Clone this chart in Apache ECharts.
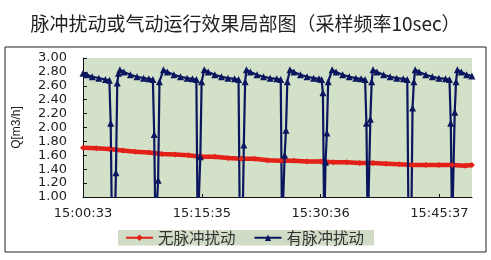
<!DOCTYPE html>
<html><head><meta charset="utf-8">
<script src="https://cdn.jsdelivr.net/npm/echarts@6/dist/echarts.min.js"></script>
<style>html,body{margin:0;padding:0;background:#fff}#c{width:491px;height:260px}</style>
</head><body><div id="c"></div>
<script>
// Time in seconds since 15:00:33 (10 s sampling)
const tickSeconds = [0, 902, 1803, 2704];
const tickLabels = ['15:00:33', '15:15:35', '15:30:36', '15:45:37'];
const seriesNames = ['无脉冲扰动', '有脉冲扰动'];

// 无脉冲扰动 (red)
const redTime = [0,100,200,300,400,500,600,700,800,900,1000,1100,1200,1300,1400,1500,1600,1700,1800,1900,2000,2100,2200,2300,2400,2500,2600,2700,2800,2900,2950];
const redFlow = [1.71,1.70,1.69,1.67,1.65,1.64,1.62,1.61,1.60,1.58,1.58,1.56,1.55,1.55,1.53,1.52,1.52,1.51,1.51,1.50,1.50,1.49,1.49,1.48,1.47,1.46,1.46,1.46,1.46,1.45,1.46];

// 有脉冲扰动 (blue) — values below 1.00 fall off the bottom of the plot
const blueTime = [0,30,70,120,170,200,210,220,230,240,250,260,270,280,
  310,360,410,460,500,530,540,550,560,570,580,610,
  640,690,740,790,830,860,870,880,890,900,920,
  950,1000,1050,1100,1150,1180,1190,1200,1210,1220,1230,1240,
  1270,1320,1370,1420,1470,1500,1510,1520,1530,1540,1550,1570,
  1600,1650,1700,1750,1790,1810,1820,1830,1840,1850,1860,1890,
  1920,1970,2020,2070,2110,2140,2150,2160,2170,2180,2190,2200,
  2230,2280,2330,2380,2430,2460,2470,2480,2490,2500,2510,2520,
  2550,2600,2650,2700,2750,2780,2790,2800,2810,2820,2830,2840,
  2870,2910,2950];
const blueFlow = [2.78,2.76,2.73,2.71,2.69,2.68,2.06,0.5,0.5,0.5,1.35,2.64,2.78,2.83,
  2.80,2.76,2.73,2.71,2.70,2.69,1.90,0.5,0.5,1.24,2.66,2.83,
  2.80,2.76,2.73,2.71,2.70,2.69,0.5,0.5,1.58,2.66,2.83,
  2.80,2.76,2.73,2.71,2.70,2.69,0.5,0.5,0.5,1.75,2.66,2.83,
  2.80,2.76,2.73,2.71,2.70,2.69,0.5,0.5,1.60,1.96,2.66,2.83,
  2.80,2.76,2.73,2.71,2.70,2.69,2.50,0.5,1.50,1.92,2.66,2.83,
  2.80,2.76,2.73,2.71,2.70,2.69,2.06,0.5,0.5,2.12,2.66,2.83,
  2.80,2.76,2.73,2.71,2.70,2.69,0.5,0.5,0.5,2.28,2.66,2.83,
  2.80,2.76,2.73,2.71,2.70,2.69,2.06,0.5,0.5,2.22,2.66,2.83,
  2.80,2.76,2.74];

const redData = redTime.map((t, i) => [t, redFlow[i]]);
const blueData = blueTime.map((t, i) => [t, blueFlow[i]]);

const chart = echarts.init(document.getElementById('c'), null, {renderer: 'canvas'});
const axisFont = 'DejaVu Sans';
chart.setOption({
  animation: false,
  backgroundColor: '#fff',
  title: {
    text: '脉冲扰动或气动运行效果局部图（采样频率10sec）',
    left: 'center', top: 9,
    textStyle: {fontSize: 19, fontWeight: 'normal', fontFamily: 'Noto Sans CJK SC', color: '#222'}
  },
  grid: [
    {left: 83, top: 58, right: 19, bottom: 63, show: true, backgroundColor: '#d3e1c8', borderWidth: 0},
    {left: 5, top: 47, width: 481, height: 205, show: true, backgroundColor: 'rgba(0,0,0,0)', borderColor: '#222', borderWidth: 1, z: -1}
  ],
  legend: {
    data: seriesNames,
    left: 118, top: 230,
    padding: [0, 10, 0, 7],
    backgroundColor: '#d0dcc6',
    itemWidth: 27, itemHeight: 8, itemGap: 18,
    textStyle: {fontSize: 15.5, fontFamily: 'Noto Sans CJK SC', color: '#333'}
  },
  xAxis: [{
    type: 'value', min: 0, max: 2951,
    axisLine: {show: true, lineStyle: {color: '#111', width: 1}},
    axisTick: {show: true, inside: true, length: 3, customValues: tickSeconds, lineStyle: {color: '#111'}},
    axisLabel: {
      customValues: tickSeconds, margin: 10,
      fontSize: 13, fontFamily: axisFont, color: '#222',
      formatter: v => { const i = tickSeconds.indexOf(v); return i >= 0 ? tickLabels[i] : ''; }
    },
    splitLine: {show: false}
  }, {
    type: 'value', gridIndex: 1, show: false, min: 0, max: 1
  }],
  yAxis: [{
    type: 'value', min: 1, max: 3, interval: 0.2,
    name: 'Q[m3/h]', nameLocation: 'middle', nameRotate: 90, nameGap: 60,
    nameTextStyle: {fontSize: 12, fontFamily: 'Liberation Sans', color: '#222'},
    axisLine: {show: true, lineStyle: {color: '#111', width: 1}},
    axisTick: {show: true, inside: true, length: 4, lineStyle: {color: '#111'}},
    axisLabel: {margin: 16, fontSize: 13, fontFamily: axisFont, color: '#222', formatter: v => v.toFixed(2)},
    splitLine: {show: false}
  }, {
    type: 'value', gridIndex: 1, show: false, min: 0, max: 1
  }],
  series: [
    {
      name: seriesNames[0], type: 'line', data: redData,
      symbol: 'diamond', symbolSize: 6, showSymbol: true,
      itemStyle: {color: '#e32118'},
      lineStyle: {color: '#e32118', width: 4.5},
      clip: true
    },
    {
      name: seriesNames[1], type: 'line', data: blueData,
      symbol: 'triangle', symbolSize: 7, showSymbol: true,
      itemStyle: {color: '#0b165e'},
      lineStyle: {color: '#0b165e', width: 2.2},
      clip: true
    }
  ]
});
</script></body></html>
